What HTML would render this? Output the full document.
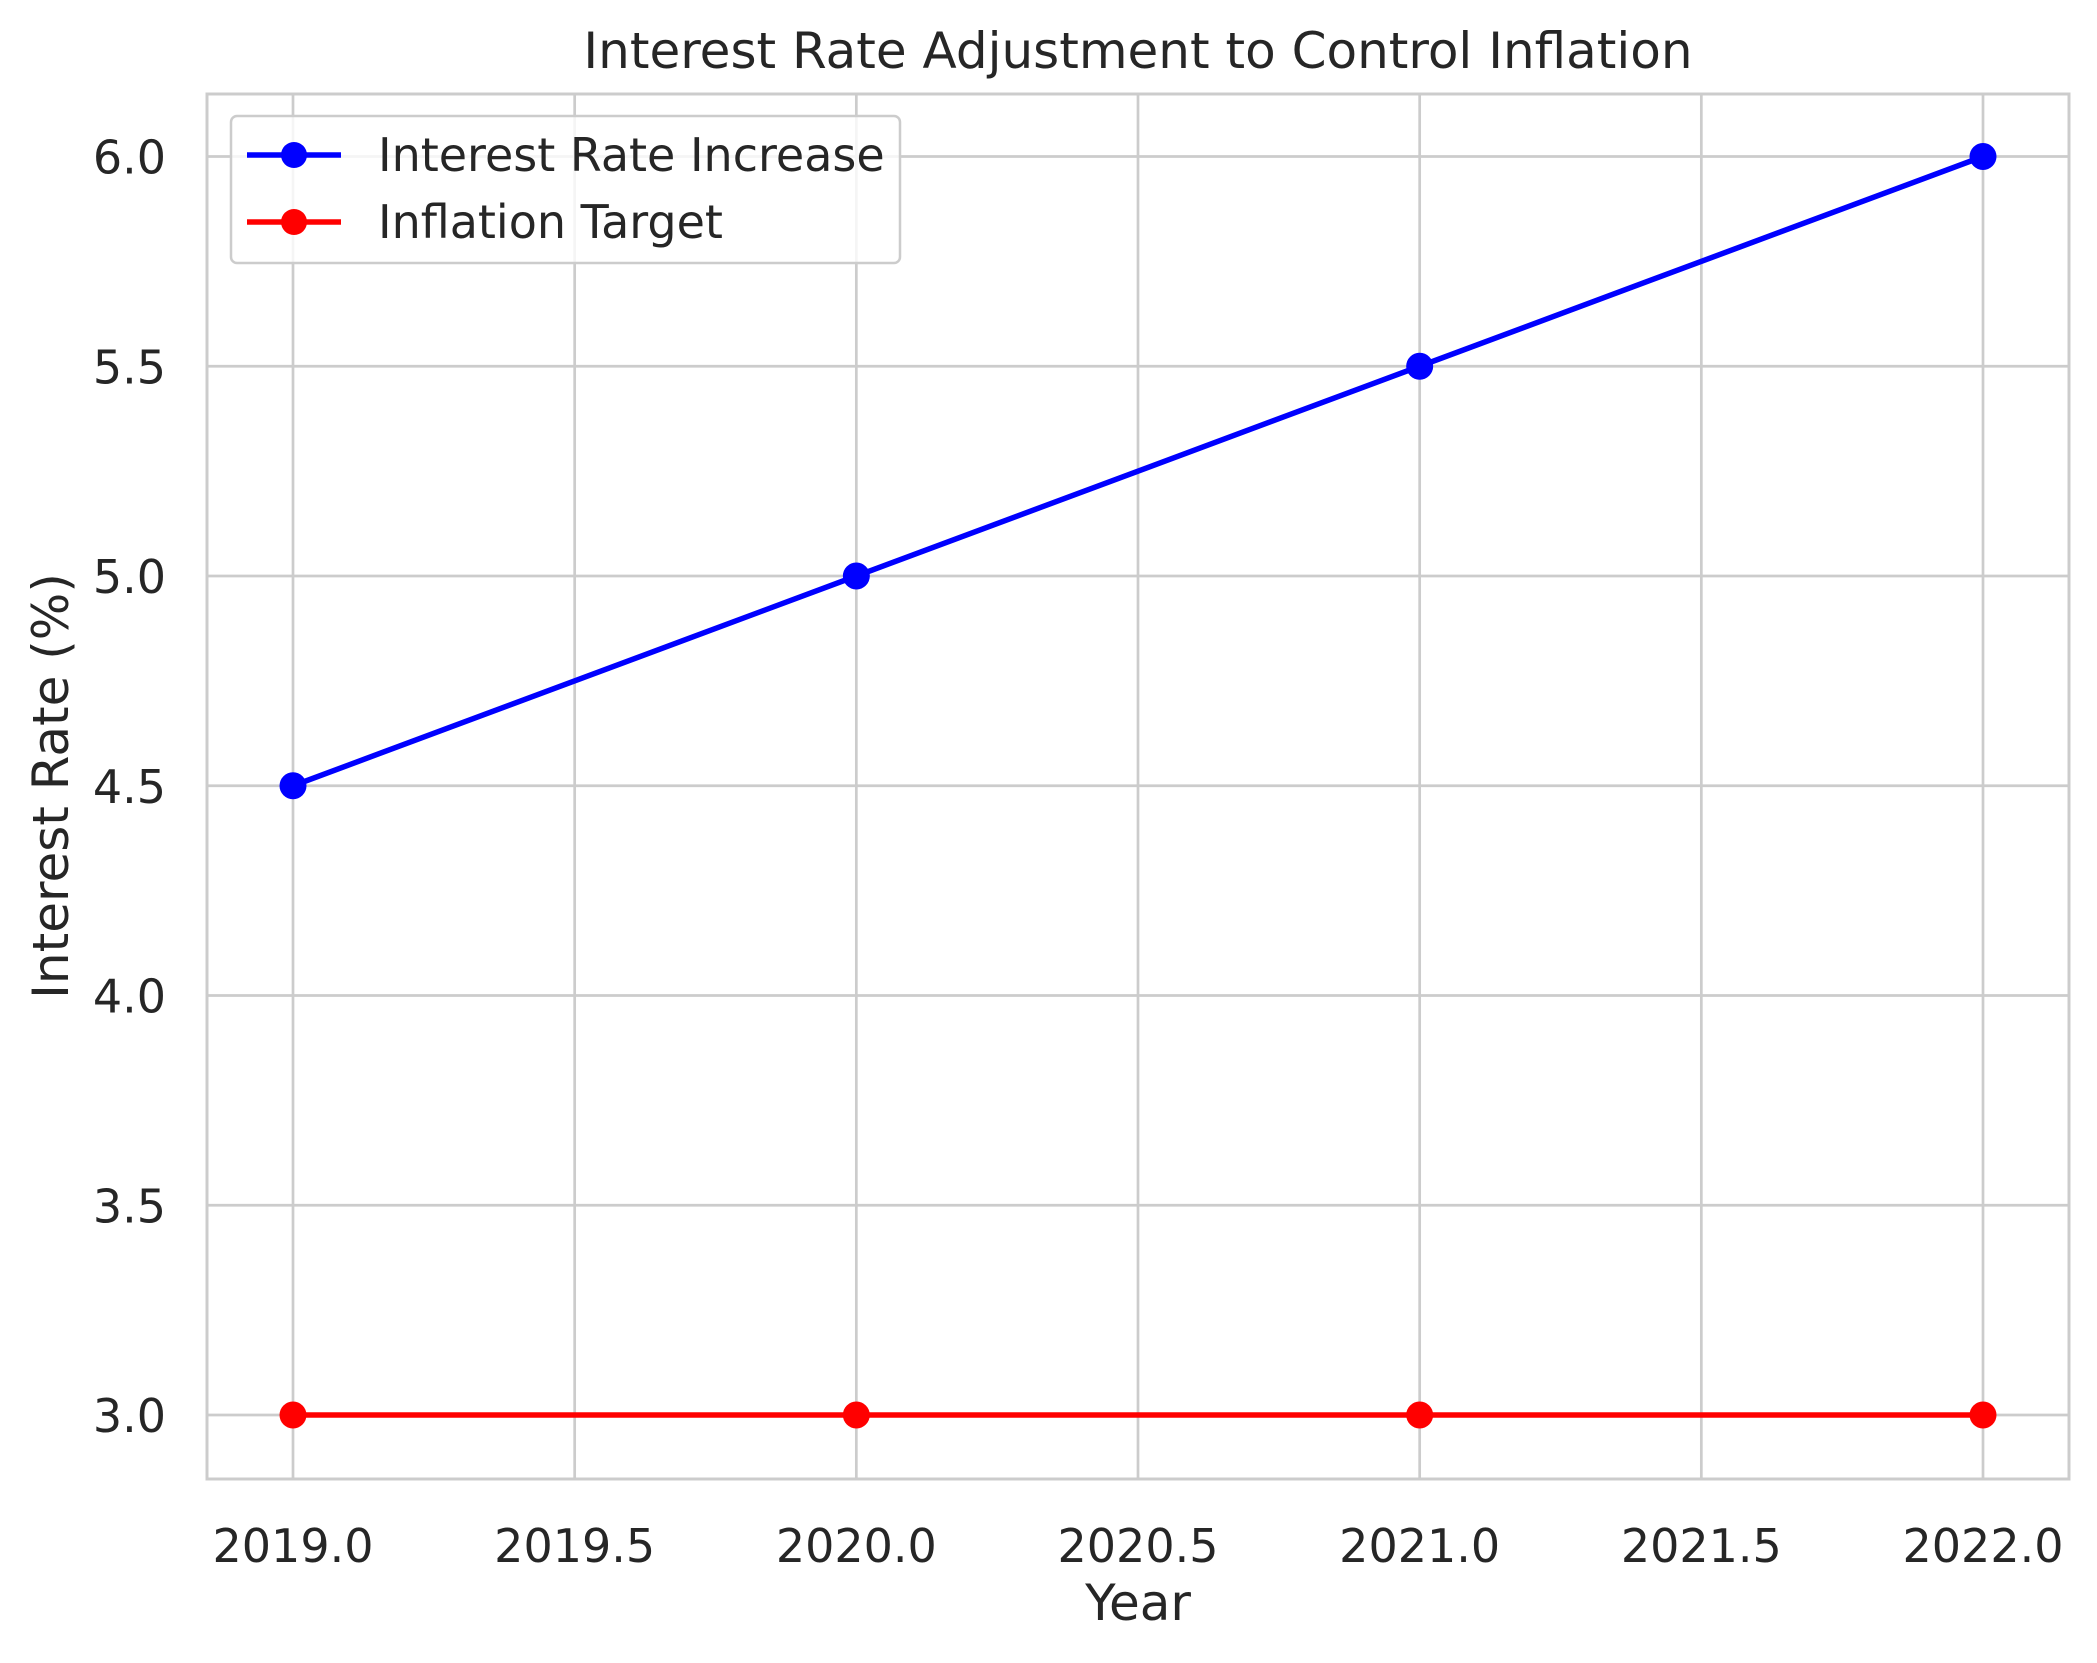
<!DOCTYPE html>
<html><head><meta charset="utf-8"><style>
body{margin:0;background:#fff}
svg text{font-family:"DejaVu Sans","Liberation Sans",sans-serif;fill:#262626}
</style></head><body>
<svg width="2097" height="1658" xmlns="http://www.w3.org/2000/svg">
<g id="grid"></g>
<rect x="207" y="94" width="1862" height="1385" fill="none" stroke="#cccccc" stroke-width="3"/>
<g id="ticks"></g>
<g id="series"></g>
<text x="1138" y="68" font-size="50" text-anchor="middle">Interest Rate Adjustment to Control Inflation</text>
<text x="1138" y="1620" font-size="50" text-anchor="middle">Year</text>
<text x="0" y="0" font-size="50" text-anchor="middle" transform="translate(68,786) rotate(-90)">Interest Rate (%)</text>
<g>
<rect x="231" y="116" width="669" height="147" rx="6" fill="#fff" fill-opacity="0.8" stroke="#cccccc" stroke-width="2.5"/>
<g>
<line x1="247" y1="155" x2="341" y2="155" stroke="#0000ff" stroke-width="5.5"/>
<circle cx="294" cy="155" r="13" fill="#0000ff"/>
<text x="378" y="171" font-size="46">Interest Rate Increase</text></g>
<g>
<line x1="247" y1="222" x2="341" y2="222" stroke="#ff0000" stroke-width="5.5"/>
<circle cx="294" cy="222" r="13" fill="#ff0000"/>
<text x="378" y="238" font-size="46">Inflation Target</text></g>
</g>
</svg>
<script>
const years=[2019,2020,2021,2022];
const interestRate=[4.5,5.0,5.5,6.0];
const inflationTarget=[3.0,3.0,3.0,3.0];
const xTicks=[2019.0,2019.5,2020.0,2020.5,2021.0,2021.5,2022.0];
const yTicks=[3.0,3.5,4.0,4.5,5.0,5.5,6.0];
const NS="http://www.w3.org/2000/svg";
const X=v=>293+(v-2019)*(1983-293)/3;
const Y=v=>1415-(v-3)*(1415-156.5)/3;
function mk(t,a,p){const e=document.createElementNS(NS,t);for(const k in a)e.setAttribute(k,a[k]);p.appendChild(e);return e;}
const g=document.getElementById('grid'),tk=document.getElementById('ticks'),s=document.getElementById('series');
xTicks.forEach(v=>{
 const l=mk('line',{x1:X(v),x2:X(v),y1:94,y2:1479,stroke:'#cccccc','stroke-width':2.7},g);
 
 
 const t=mk('text',{x:X(v),y:1562,'font-size':46,'text-anchor':'middle'},tk);t.textContent=v.toFixed(1);
 
 
});
yTicks.forEach(v=>{
 const l=mk('line',{x1:207,x2:2069,y1:Y(v),y2:Y(v),stroke:'#cccccc','stroke-width':2.7},g);
 
 
 const t=mk('text',{x:166,y:Y(v)+17,'font-size':46,'text-anchor':'end'},tk);t.textContent=v.toFixed(1);
 
 
});
function series(vals,color,name){
 const p=mk('polyline',{points:years.map((y,i)=>X(y)+','+Y(vals[i])).join(' '),fill:'none',stroke:color,'stroke-width':5.5},s);
 
 
 years.forEach((y,i)=>{const c=mk('circle',{cx:X(y),cy:Y(vals[i]),r:13.5,fill:color},s);
 
 });
}
series(interestRate,'#0000ff','interest-rate');
series(inflationTarget,'#ff0000','inflation-target');
</script>
</body></html>
